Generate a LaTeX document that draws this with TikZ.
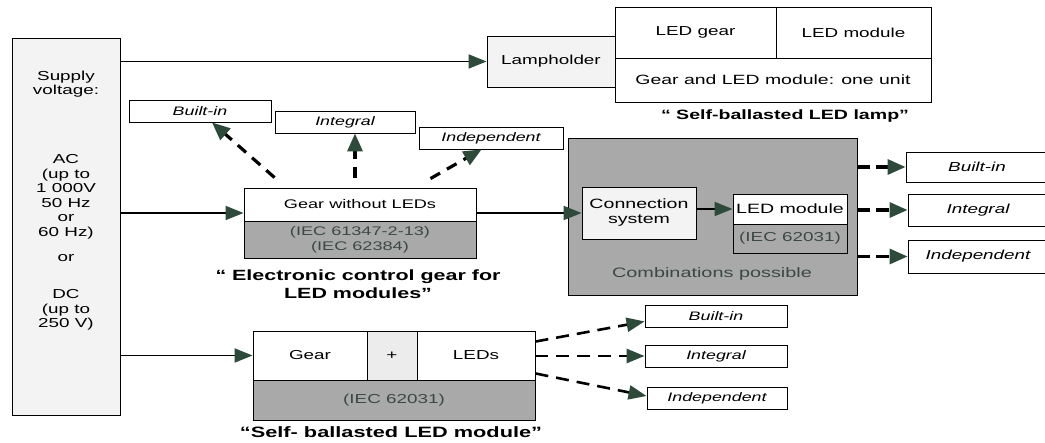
\documentclass[tikz,border=0pt]{standalone}
\usepackage{fontspec}
\setmainfont{Liberation Sans}[FakeStretch=1.45]
\usetikzlibrary{arrows.meta,calc}
\definecolor{arrowgreen}{HTML}{2D4A3A}
\definecolor{grayfill}{HTML}{A9A9A9}
\definecolor{lightfill}{HTML}{F3F3F3}
\definecolor{plusfill}{HTML}{ECECEC}
\definecolor{graytext}{HTML}{3C4846}
\tikzset{
  txt/.style={font=\fontsize{13}{14.5}\selectfont, align=center, inner sep=0pt},
  box/.style={draw=black, line width=0.9pt, fill=white, inner sep=0pt, txt},
  lightbox/.style={box, fill=lightfill},
  graybox/.style={box, fill=grayfill, text=graytext},
  tagbox/.style={box, font=\fontsize{13}{14}\selectfont\itshape},
  smalltag/.style={box, font=\fontsize{12.3}{14}\selectfont\itshape},
  caption/.style={align=center, inner sep=0pt},
  conn/.style={line width=1.8pt, -{Triangle[length=18pt,width=14pt,color=arrowgreen]}},
  dconn/.style={line width=3.2pt, dash pattern=on 11pt off 8pt, -{Triangle[length=18pt,width=15pt,color=arrowgreen]}},
  dconnthin/.style={line width=2.6pt, dash pattern=on 13pt off 8pt, -{Triangle[length=18pt,width=14pt,color=arrowgreen]}},
}
\begin{document}
\begin{tikzpicture}[x=1pt,y=-1pt]
\useasboundingbox[fill=white] (0,0) rectangle (1045,443);

% supply voltage box
\node[lightbox, minimum width=108pt, minimum height=377pt] (supply) at (66,226.5) {};
\node[txt] (supplyt) at (66,84) {Supply\\voltage:};
\node[txt] (act) at (66,197) {AC\\(up to\\1 000V\\50 Hz\\or\\60 Hz)};
\node[txt] (ort) at (66,258) {or};
\node[txt] (dct) at (66,310) {DC\\(up to\\250 V)};

% self-ballasted LED lamp
\node[lightbox, minimum width=128pt, minimum height=51pt] (lampholder) at (551,61.5) {Lampholder};
\node[box, minimum width=161pt, minimum height=51pt] (ledgear) at (695.5,32.5) {LED gear};
\node[box, minimum width=155pt, minimum height=51pt] (ledmod1) at (853.5,32.5) {LED module};
\node[box, minimum width=316pt, minimum height=44pt, font=\fontsize{13.4}{15}\selectfont] (oneunit) at (773,80) {Gear and LED module: one unit};
\node[caption, font=\fontsize{13.5}{17}\selectfont\bfseries] (lampcap) at (785,116) {“ Self-ballasted LED lamp”};

% electronic control gear
\node[smalltag, minimum width=142pt, minimum height=22pt] (builtin1) at (200,111) {Built-in};
\node[smalltag, minimum width=140pt, minimum height=22pt] (integral1) at (345,122) {Integral};
\node[smalltag, minimum width=144pt, minimum height=22pt] (indep1) at (491,138) {Independent};
\node[box, minimum width=232pt, minimum height=33pt, font=\fontsize{12.5}{14}\selectfont] (gear) at (360,204.5) {Gear without LEDs};
\node[graybox, minimum width=232pt, minimum height=37pt, font=\fontsize{12.5}{15}\selectfont] (geariec) at (360,239.5) {(IEC 61347-2-13)\\(IEC 62384)};
\node[caption, font=\fontsize{14.8}{18}\selectfont\bfseries] (gearcap) at (358,284) {“ Electronic control gear for\\LED modules”};

% combinations
\node[graybox, minimum width=289pt, minimum height=157pt] (combo) at (712.5,216.5) {};
\node[lightbox, minimum width=114pt, minimum height=52pt, font=\fontsize{13.5}{15}\selectfont] (connsys) at (639,213) {Connection\\system};
\node[box, minimum width=114pt, minimum height=30pt, font=\fontsize{13.5}{15}\selectfont] (ledmod2) at (790,209) {LED module};
\node[graybox, minimum width=114pt, minimum height=29pt] (lediec) at (790,238.5) {(IEC 62031)};
\node[txt, text=graytext, font=\fontsize{13.7}{15}\selectfont] (combt) at (712,274) {Combinations possible};
\node[tagbox, minimum width=142pt, minimum height=30pt] (builtin2) at (977,167) {Built-in};
\node[tagbox, minimum width=140pt, minimum height=32pt] (integral2) at (978,210) {Integral};
\node[tagbox, minimum width=140pt, minimum height=33pt] (indep2) at (978,256.5) {Independent};

% self-ballasted LED module
\node[box, minimum width=114pt, minimum height=49pt] (modgear) at (310,355.5) {Gear};
\node[box, fill=plusfill, minimum width=50pt, minimum height=49pt] (modplus) at (392,355.5) {+};
\node[box, minimum width=118pt, minimum height=49pt] (modleds) at (476,355.5) {LEDs};
\node[graybox, minimum width=282pt, minimum height=40pt] (modiec) at (394,400) {(IEC 62031)};
\node[caption, font=\fontsize{15}{18}\selectfont\bfseries] (modcap) at (391,432) {“Self- ballasted LED module”};
\node[smalltag, minimum width=142pt, minimum height=22pt] (builtin3) at (716,316) {Built-in};
\node[smalltag, minimum width=142pt, minimum height=22pt] (integral3) at (716,356) {Integral};
\node[smalltag, minimum width=140pt, minimum height=22pt] (indep3) at (717,398) {Independent};

% solid connectors
\draw[conn] (supply.east |- lampholder.west) -- (lampholder.west);
\draw[conn] (supply.east |- connsys.west) -- (gear.south west |- connsys.west);
\draw[conn] (gear.south east |- connsys.west) -- (connsys.west);
\draw[conn] (connsys.east |- ledmod2.west) -- (ledmod2.west);
\draw[conn] (supply.east |- modgear.west) -- (modgear.west);

% dashed connectors from gear
\draw[dconn] ($(gear.north west)+(31,-10)$) -- ($(builtin1.south)+(12,0)$);
\draw[dconn] ($(gear.north)+(-5,-10)$) -- ($(integral1.south)+(10,0)$);
\draw[dconn] ($(gear.north east)+(-46,-9)$) -- ($(indep1.south west)+(63,0)$);

% dashed connectors from combinations
\draw[dconn, dash pattern=on 13pt off 6pt] (combo.east |- builtin2.west) -- (builtin2.west);
\draw[dconn, dash pattern=on 13pt off 6pt] (combo.east |- integral2.west) -- (integral2.west);
\draw[dconn, dash pattern=on 13pt off 6pt] (combo.east |- indep2.west) -- (indep2.west);

% dashed connectors from module
\draw[dconnthin] ($(modleds.north east)+(0,11)$) -- ($(builtin3.south west)+(0,-6)$);
\draw[dconnthin] (modleds.east |- integral3.west) -- (integral3.west);
\draw[dconnthin] ($(modleds.south east)+(0,-7)$) -- ($(indep3.west)+(0,-2)$);
\end{tikzpicture}
\end{document}
